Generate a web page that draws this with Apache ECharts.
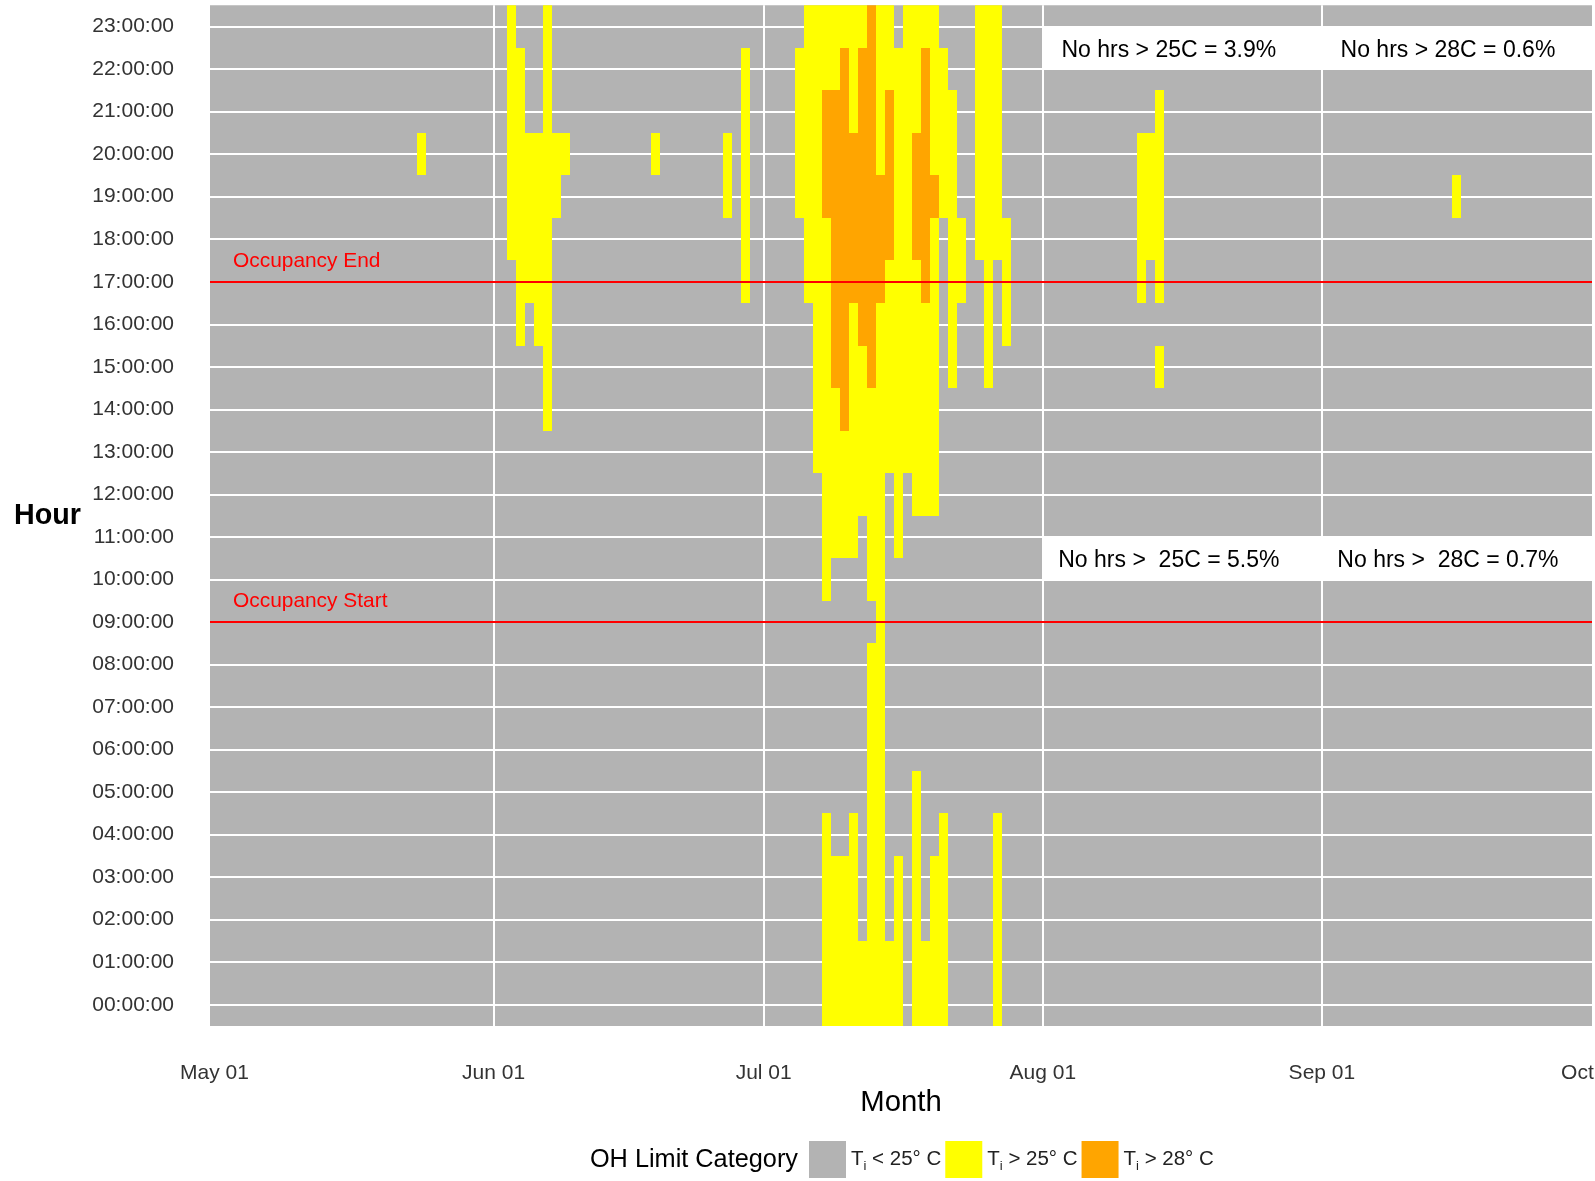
<!DOCTYPE html>
<html>
<head>
<meta charset="utf-8">
<script src="https://cdn.jsdelivr.net/npm/echarts@6/dist/echarts.min.js"></script>
<style>
html,body{margin:0;padding:0;background:#ffffff;}
#chart{width:1595px;height:1181px;}
</style>
</head>
<body>
<div id="chart"></div>
<script>
// ---------- data ----------
const YEAR = 2019;
const monthTickDates = ['05-01', '06-01', '07-01', '08-01', '09-01', '10-01'];
const monthTickLabels = ['May 01', 'Jun 01', 'Jul 01', 'Aug 01', 'Sep 01', 'Oct 01'];
const hourTicks = [0, 1, 2, 3, 4, 5, 6, 7, 8, 9, 10, 11, 12, 13, 14, 15, 16, 17, 18, 19, 20, 21, 22, 23];
const hourTickLabels = ['00:00:00', '01:00:00', '02:00:00', '03:00:00', '04:00:00', '05:00:00',
  '06:00:00', '07:00:00', '08:00:00', '09:00:00', '10:00:00', '11:00:00', '12:00:00', '13:00:00',
  '14:00:00', '15:00:00', '16:00:00', '17:00:00', '18:00:00', '19:00:00', '20:00:00', '21:00:00',
  '22:00:00', '23:00:00'];
const categories = ['T_i < 25° C', 'T_i > 25° C', 'T_i > 28° C'];

// [date, first hour, last hour] of consecutive hours in a category
const below25Runs = []; // every remaining hour (panel background)
const above25Runs = [
  ['05-24', 20, 20],
  ['06-03', 18, 23], ['06-04', 16, 22], ['06-05', 17, 20], ['06-06', 16, 20], ['06-07', 14, 23],
  ['06-08', 19, 20], ['06-09', 20, 20], ['06-19', 20, 20], ['06-27', 19, 20], ['06-29', 17, 22],
  ['07-05', 19, 22], ['07-06', 17, 23], ['07-07', 13, 23],
  ['07-08', 0, 4], ['07-08', 10, 18], ['07-08', 22, 23],
  ['07-09', 0, 3], ['07-09', 11, 14], ['07-09', 22, 23],
  ['07-10', 0, 3], ['07-10', 11, 13], ['07-10', 23, 23],
  ['07-11', 0, 4], ['07-11', 11, 16], ['07-11', 21, 23],
  ['07-12', 0, 1], ['07-12', 12, 15], ['07-12', 23, 23],
  ['07-13', 0, 8], ['07-13', 10, 14],
  ['07-14', 0, 16], ['07-14', 20, 23],
  ['07-15', 0, 1], ['07-15', 13, 17], ['07-15', 22, 23],
  ['07-16', 0, 3], ['07-16', 11, 22],
  ['07-17', 13, 23],
  ['07-18', 0, 5], ['07-18', 12, 17], ['07-18', 21, 23],
  ['07-19', 0, 1], ['07-19', 12, 16], ['07-19', 23, 23],
  ['07-20', 0, 3], ['07-20', 12, 18], ['07-20', 20, 23],
  ['07-21', 0, 4], ['07-21', 19, 22],
  ['07-22', 15, 21], ['07-23', 17, 18],
  ['07-25', 18, 23], ['07-26', 15, 23],
  ['07-27', 0, 4], ['07-27', 18, 23],
  ['07-28', 16, 18],
  ['08-12', 17, 20], ['08-13', 18, 20], ['08-14', 15, 15], ['08-14', 17, 21],
  ['09-16', 19, 19]
];
const above28Runs = [
  ['07-08', 19, 21], ['07-09', 15, 21], ['07-10', 14, 22], ['07-11', 17, 20],
  ['07-12', 16, 22], ['07-13', 15, 23], ['07-14', 17, 19], ['07-15', 18, 21],
  ['07-18', 18, 20], ['07-19', 17, 22], ['07-20', 19, 19]
];
const occupancyHours = [17, 9];
const occupancyLabels = ['Occupancy End', 'Occupancy Start'];
const summaryTexts = [
  ['No hrs > 25C = 3.9%', 'No hrs > 28C = 0.6%'],
  ['No hrs >  25C = 5.5%', 'No hrs >  28C = 0.7%']
];

// ---------- helpers ----------
const START = Date.UTC(YEAR, 4, 1);
function dayIndex(md) {
  const p = md.split('-');
  return Math.round((Date.UTC(YEAR, +p[0] - 1, +p[1]) - START) / 86400000);
}
const monthTickDays = monthTickDates.map(dayIndex);
const innerMonthDays = monthTickDays.slice(1, -1);
const toData = runs => runs.map(r => [dayIndex(r[0]), r[1], r[2]]);

function renderRun(params, api) {
  const d = api.value(0), h0 = api.value(1), h1 = api.value(2);
  const p0 = api.coord([d - 0.5, h1 + 0.5]);
  const p1 = api.coord([d + 0.5, h0 - 0.5]);
  const x0 = Math.round(p0[0]), x1 = Math.round(p1[0]);
  const y0 = Math.round(p0[1]), y1 = Math.round(p1[1]);
  return {
    type: 'rect',
    shape: { x: x0, y: y0, width: x1 - x0, height: y1 - y0 },
    style: { fill: api.visual('color') }
  };
}

const FONT = "'Liberation Sans', Arial, sans-serif";
const GRAY = '#B3B3B3', YELLOW = '#FFFF00', ORANGE = '#FFA500';

const dAug1 = dayIndex('08-01'), dSep1 = dayIndex('09-01'), dOct1 = dayIndex('10-01');
const summaryRows = [[22, 23], [10, 11]];
const summaryCols = [[dAug1, dSep1, dayIndex('08-15')], [dSep1, dOct1, dayIndex('09-15')]];

const areaData = [];
const textPoints = [];
summaryRows.forEach((row, i) => {
  summaryCols.forEach((col, j) => {
    areaData.push([{ xAxis: col[0], yAxis: row[0] }, { xAxis: col[1], yAxis: row[1] }]);
    textPoints.push({
      name: summaryTexts[i][j], coord: [col[2], (row[0] + row[1]) / 2],
      label: { show: true, position: 'inside', offset: [0, 2.5], formatter: '{b}', color: '#000000', fontSize: 23, fontFamily: FONT }
    });
  });
});
occupancyHours.forEach((h, i) => {
  textPoints.push({
    name: occupancyLabels[i], coord: [dayIndex('05-03'), h + 0.5],
    label: { show: true, position: 'right', distance: 0, offset: [0, 1], formatter: '{b}', color: '#FF0000', fontSize: 20.9, fontFamily: FONT }
  });
});

const chart = echarts.init(document.getElementById('chart'), null, { renderer: 'canvas' });
chart.setOption({
  animation: false,
  textStyle: { fontFamily: FONT },
  grid: {
    left: 210, right: 3, top: 5.3, bottom: 155,
    show: true, backgroundColor: GRAY, borderWidth: 0,
    containLabel: false, outerBoundsMode: 'none'
  },
  xAxis: {
    type: 'value', min: -0.5, max: dOct1,
    axisLine: { show: false },
    axisTick: { show: false, customValues: innerMonthDays },
    axisLabel: {
      customValues: monthTickDays, margin: 37, fontSize: 21, color: '#333333', fontFamily: FONT,
      formatter: v => monthTickLabels[monthTickDays.indexOf(v)] || ''
    },
    splitLine: { show: true, lineStyle: { color: '#FFFFFF', width: 2 } },
    name: 'Month', nameLocation: 'middle', nameGap: 59,
    nameTextStyle: { fontSize: 29.3, color: '#000000', fontFamily: FONT }
  },
  yAxis: {
    type: 'value', min: -0.5, max: 23.5,
    axisLine: { show: false },
    axisTick: { show: false, customValues: hourTicks },
    axisLabel: {
      customValues: hourTicks, margin: 36, fontSize: 21, color: '#333333', fontFamily: FONT,
      padding: [2, 0, 0, 0],
      formatter: v => hourTickLabels[hourTicks.indexOf(v)] || ''
    },
    splitLine: { show: true, lineStyle: { color: '#FFFFFF', width: 2 } },
    name: 'Hour', nameLocation: 'middle', nameRotate: 0, nameGap: 129,
    nameTextStyle: { fontSize: 28.7, fontWeight: 'bold', color: '#000000', fontFamily: FONT, padding: [4, 0, 0, 0] }
  },
  legend: {
    left: 809, top: 1141, padding: 0, orient: 'horizontal',
    itemWidth: 37, itemHeight: 37, itemGap: 4, icon: 'rect',
    selectedMode: false,
    data: categories,
    formatter: name => '{t|T}{s|i}{t|' + name.slice(3) + '}',
    textStyle: {
      color: '#222222', fontSize: 20.5, fontFamily: FONT,
      rich: {
        t: { fontSize: 20.5, color: '#222222', fontFamily: FONT, lineHeight: 26 },
        s: { fontSize: 13, color: '#222222', fontFamily: FONT, lineHeight: 13, verticalAlign: 'bottom' }
      }
    }
  },
  graphic: [{
    type: 'text', x: 798, y: 1160, silent: true,
    style: { text: 'OH Limit Category', fontSize: 25.3, fontFamily: FONT, fill: '#000000', align: 'right', verticalAlign: 'middle' }
  }],
  series: [
    {
      type: 'custom', name: categories[0], data: toData(below25Runs), renderItem: renderRun,
      encode: { x: 0, y: [1, 2] }, itemStyle: { color: GRAY }, silent: true
    },
    {
      type: 'custom', name: categories[1], data: toData(above25Runs), renderItem: renderRun,
      encode: { x: 0, y: [1, 2] }, itemStyle: { color: YELLOW }, silent: true, clip: true,
      markArea: {
        silent: true, label: { show: false },
        itemStyle: { color: '#FFFFFF', opacity: 1, borderWidth: 0 },
        data: areaData
      },
      markLine: {
        silent: true, symbol: ['none', 'none'], label: { show: false },
        lineStyle: { color: '#FF0000', width: 2, type: 'solid', opacity: 1 },
        data: occupancyHours.map(h => ({ yAxis: h }))
      },
      markPoint: {
        silent: true, symbol: 'circle', symbolSize: 1,
        itemStyle: { color: 'rgba(0,0,0,0)' },
        data: textPoints
      }
    },
    {
      type: 'custom', name: categories[2], data: toData(above28Runs), renderItem: renderRun,
      encode: { x: 0, y: [1, 2] }, itemStyle: { color: ORANGE }, silent: true, clip: true
    }
  ]
});
</script>
</body>
</html>
